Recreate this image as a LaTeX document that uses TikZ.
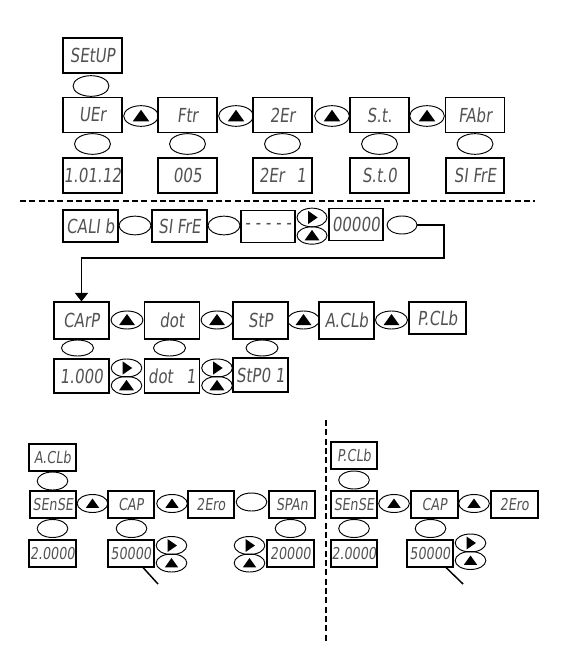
\documentclass[tikz,border=0pt]{standalone}
\usepackage{fontspec}
\usetikzlibrary{shapes.geometric,arrows.meta}
\newfontfamily\lcdfont[FakeSlant=0.12,FakeStretch=0.78]{DejaVu Sans}
\definecolor{lcdgray}{gray}{0.32}

\tikzset{
  disp/.style={draw,line width=1.1pt,minimum width=44pt,minimum height=26pt,inner sep=0pt,
    text=lcdgray,font=\lcdfont\fontsize{14.5}{14.5}\selectfont},
  dispthin/.style={disp,line width=0.8pt},
  dispsmall/.style={disp,minimum width=35pt,minimum height=20pt,
    font=\lcdfont\fontsize{12.3}{12.3}\selectfont},
  key/.style={draw,ellipse,line width=0.7pt,minimum width=26pt,minimum height=15.5pt,inner sep=0pt},
  keysmall/.style={key,minimum width=23pt,minimum height=13.5pt},
  keyup/.style={path picture={\fill[shift={(path picture bounding box.center)}]
    (-#1,-0.65*#1) -- (#1,-0.65*#1) -- (0pt,0.75*#1) -- cycle;}},
  keyup/.default=6.2pt,
  keyright/.style={path picture={\fill[shift={(path picture bounding box.center)}]
    (-0.6*#1,-#1) -- (-0.6*#1,#1) -- (0.85*#1,0pt) -- cycle;}},
  keyright/.default=5pt,
  sep/.style={line width=0.8pt,dash pattern=on 4.5pt off 2.5pt}
}

\begin{document}
\begin{tikzpicture}[x=0.75pt,y=-0.75pt]
\useasboundingbox (0,0) rectangle (567,652);

% Menu SETUP
\node[disp,line width=1.4pt] (setup) at (92.5,55.5) {SEtUP};
\node[key,minimum width=27pt] (kset) at (91,86) {};
\foreach \x/\n/\t/\v in {92.5/ver/UEr/1.01.12, 187.5/ftr/Ftr/005, 282.5/zer/2Er/2Er\hspace{9pt}1,
                         379.5/st/S.t./S.t.0, 475/fab/FAbr/SI FrE}
{
	\node[disp] (\n) at (\x,115) {\t};
	\node[key,minimum width=27pt] (k\n) at (\x,144) {};
	\node[disp,line width=1.3pt] (v\n) at (\x,175.5) {\v};
}
\foreach \x [count=\i] in {141,236,332,427}
	\node[key,keyup] (up\i) at (\x,116) {};

\draw[sep] (20,201) -- (535,201);

% Menu CALIb
\node[disp,line width=1.4pt,minimum width=41pt,minimum height=24pt] (calib) at (90.5,226) {CALI b};
\node[key,minimum width=24pt,minimum height=14pt] (kcal) at (135,225.5) {};
\node[disp,line width=1.4pt,minimum width=41pt,minimum height=24pt] (sifre) at (179.5,226) {SI FrE};
\node[key,minimum width=24pt,minimum height=14pt] (ksif) at (224,225.5) {};
\node[disp,line width=1.3pt,minimum width=41pt,minimum height=24pt] (pass) at (268,226.5) {\raisebox{-2pt}{- - - - -}};
\node[key,keyright,minimum width=22.5pt,minimum height=14pt] (rpass) at (312,217.5) {};
\node[key,keyup=5.6pt,minimum width=22.5pt,minimum height=13pt] (upass) at (312,235.5) {};
\node[dispthin,minimum width=40.5pt,minimum height=23.5pt] (zeros) at (356,224.5) {00000};
\node[key,minimum width=22.5pt,minimum height=13.5pt] (kok) at (402,225) {};

% Kalibrasyon alt menusu
\foreach \x/\n/\t in {81.5/carp/CArP, 172/dot/dot, 260.5/stp/StP, 346.5/aclb/A.CLb}
	\node[disp,minimum width=41pt,minimum height=27.5pt] (\n) at (\x,320.5) {\t};
\node[disp,minimum width=43pt,minimum height=24pt] (pclb) at (437.5,318) {P.CLb};
\foreach \x [count=\i] in {127,217,303.5,391.5}
	\node[key,keyup=6pt,minimum width=24pt,minimum height=13.5pt] (cup\i) at (\x,320) {};
\foreach \x/\n in {77.5/carp, 169.5/dot, 262/stp}
	\node[key,minimum width=24pt,minimum height=12pt] (k\n) at (\x,348) {};

\coordinate (bend) at (444,258);
\draw[line width=0.8pt,-{Triangle[width=10pt,length=6.5pt]}] (kok.east) -| (bend) -| (carp.north);

\node[disp,minimum width=41pt,minimum height=25.5pt] (vcarp) at (81.5,376) {1.000};
\node[disp,minimum width=41pt,minimum height=25.5pt] (vdot) at (172,376) {dot\hspace{10pt}1};
\node[disp,minimum width=41pt,minimum height=25.5pt] (vstp) at (260.5,375) {StP0 1};
\foreach \x [count=\i] in {126.5,217}
{
	\node[key,keyright,minimum width=23pt,minimum height=13.5pt] (cr\i) at (\x,368) {};
	\node[key,keyup=5.6pt,minimum width=23pt,minimum height=13.5pt] (cu\i) at (\x,385.5) {};
}

% A.CLb
\node[dispsmall,line width=1.3pt] (aclbA) at (52.5,457.5) {A.CLb};
\node[keysmall] (kaclbA) at (52.5,481) {};
\foreach \x/\n/\t in {53/senseA/SEnSE, 131/capA/CAP, 211/zeroA/2Ero, 292/spanA/SPAn}
	\node[dispsmall,line width=1.3pt] (\n) at (\x,504.5) {\t};
\node[keysmall,keyup=5pt] (aup1) at (92.5,503.5) {};
\node[keysmall,keyup=5pt] (aup2) at (172,503.5) {};
\node[keysmall] (kzeroA) at (251.5,502) {};
\foreach \x/\n in {52.5/senseA, 131.5/capA, 290.5/spanA}
	\node[keysmall] (k\n) at (\x,528.5) {};
\node[dispsmall,line width=1.3pt] (vsenseA) at (52.5,553.5) {2.0000};
\node[dispsmall,line width=1.3pt] (vcapA) at (131,553.5) {50000};
\node[dispsmall] (vspanA) at (290.5,553.5) {20000};
\foreach \x/\n in {171.5/capA, 249.5/spanA}
{
	\node[keysmall,keyright=4.8pt] (r\n) at (\x,545.5) {};
	\node[keysmall,keyup=5pt] (u\n) at (\x,563) {};
}
\coordinate (tipA) at (158,584);
\draw[line width=1.1pt] ([xshift=-9pt]vcapA.south east) -- (tipA);

\draw[sep] (326,420) -- (326,642);

% P.CLb
\node[dispsmall,line width=1.3pt] (pclbB) at (354,455.5) {P.CLb};
\node[keysmall] (kpclbB) at (354,480) {};
\foreach \x/\n/\t in {354/senseB/SEnSE, 434.5/capB/CAP, 514.5/zeroB/2Ero}
	\node[dispsmall,line width=1.3pt] (\n) at (\x,504.5) {\t};
\node[keysmall,keyup=5pt] (bup1) at (394,503.5) {};
\node[keysmall,keyup=5pt] (bup2) at (474,503.5) {};
\foreach \x/\n in {354/senseB, 430.5/capB}
	\node[keysmall] (k\n) at (\x,528.5) {};
\node[dispsmall,line width=1.3pt] (vsenseB) at (354,553.5) {2.0000};
\node[dispsmall,line width=1.3pt] (vcapB) at (430,553.5) {50000};
\node[keysmall,keyright=4.8pt] (rcapB) at (470.5,543) {};
\node[keysmall,keyup=5pt] (ucapB) at (470.5,560.5) {};
\coordinate (tipB) at (463,584);
\draw[line width=1.1pt] ([xshift=-6pt]vcapB.south east) -- (tipB);

\end{tikzpicture}
\end{document}
